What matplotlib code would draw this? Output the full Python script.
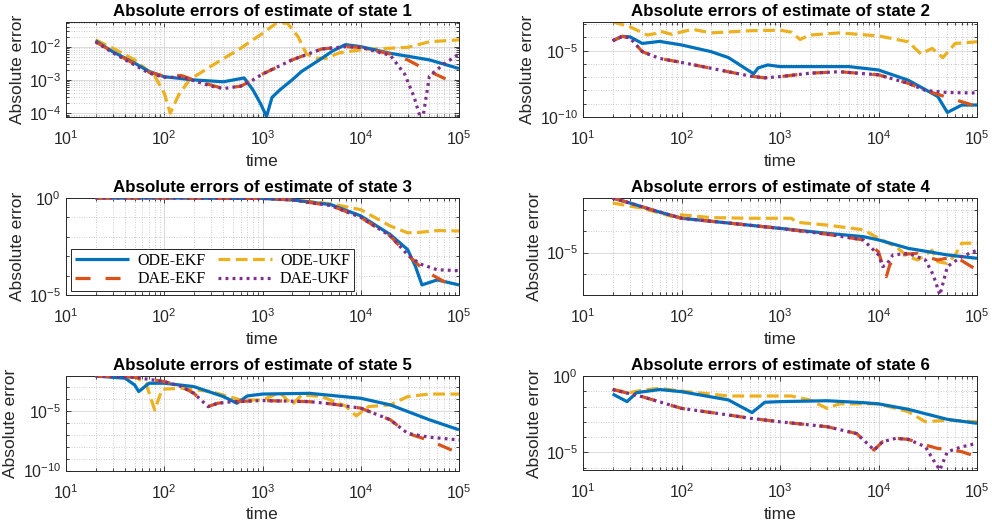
import numpy as np
import matplotlib
matplotlib.use("Agg")
import matplotlib.pyplot as plt
from matplotlib.ticker import LogLocator, NullFormatter, FixedLocator, LogFormatterSciNotation

plt.rcParams['font.family'] = ['Liberation Sans', 'DejaVu Sans']
plt.rcParams['mathtext.default'] = 'regular'

series_names = ["ODE-EKF", "DAE-EKF", "ODE-UKF", "DAE-UKF"]
titles = ["Absolute errors of estimate of state %d" % i for i in range(1, 7)]

# ---------------- state 1 ----------------
s1_ode_ekf_t = [20, 30, 50, 70, 100, 200, 400, 650, 800, 950, 1100, 1250, 1500, 2000, 2500, 3800, 5200, 7000, 10000, 20000, 50000, 100000]
s1_ode_ekf_e = [1.5e-2, 7e-3, 3.2e-3, 1.8e-3, 1.25e-3, 1.0e-3, 8.8e-4, 1.15e-3, 5e-4, 2e-4, 8e-5, 3e-4, 5e-4, 1e-3, 1.8e-3, 4e-3, 7.5e-3, 1.15e-2, 1.0e-2, 6.3e-3, 4e-3, 2.2e-3]
s1_dae_ekf_t = [20, 30, 50, 70, 100, 150, 200, 300, 400, 600, 800, 1000, 2000, 4000, 7000, 10000, 20000, 30000, 50000, 100000]
s1_dae_ekf_e = [1.4e-2, 7e-3, 3e-3, 1.7e-3, 1.3e-3, 1.35e-3, 1.0e-3, 7e-4, 5.5e-4, 6.5e-4, 1e-3, 1.5e-3, 4e-3, 8.5e-3, 1.0e-2, 9.5e-3, 6e-3, 4e-3, 1.8e-3, 7e-4]
s1_ode_ukf_t = [20, 30, 50, 80, 100, 115, 140, 180, 300, 600, 1000, 1400, 1800, 2300, 2800, 3500, 4500, 6000, 10000, 20000, 30000, 50000, 100000]
s1_ode_ukf_e = [1.6e-2, 9e-3, 4e-3, 1.3e-3, 4e-4, 1e-4, 3.5e-4, 1e-3, 2.6e-3, 9e-3, 2.5e-2, 5.2e-2, 5e-2, 2e-2, 6e-3, 4.5e-3, 4.5e-3, 6.5e-3, 8e-3, 9e-3, 9.5e-3, 1.4e-2, 1.6e-2]
s1_dae_ukf_t = [20, 30, 50, 70, 100, 150, 200, 300, 400, 600, 800, 1000, 2000, 4000, 7000, 10000, 20000, 28000, 35000, 42000, 50000, 70000, 100000]
s1_dae_ukf_e = [1.4e-2, 6.5e-3, 2.8e-3, 1.6e-3, 1.2e-3, 1.2e-3, 9.5e-4, 6.5e-4, 5.5e-4, 6.5e-4, 1e-3, 1.5e-3, 4e-3, 8.5e-3, 1.0e-2, 9.5e-3, 5.5e-3, 1.5e-3, 3e-4, 5e-5, 1.3e-3, 3e-3, 6e-3]

# ---------------- state 2 ----------------
s2_ode_ekf_t = [20, 25, 30, 40, 60, 100, 200, 300, 540, 600, 750, 1000, 2000, 5000, 10000, 20000, 40000, 50000, 70000, 100000]
s2_ode_ekf_e = [5.6e-5, 1.2e-4, 1.1e-4, 3.5e-5, 5e-5, 2.7e-5, 8.4e-6, 3e-6, 1.8e-7, 5e-7, 8.4e-7, 6.3e-7, 6.3e-7, 6.3e-7, 3.5e-7, 6e-8, 3.5e-9, 2.2e-10, 8e-10, 8e-10]
s2_dae_ekf_t = [20, 25, 30, 40, 60, 100, 200, 500, 700, 1000, 2000, 4000, 10000, 20000, 30000, 60000, 100000]
s2_dae_ekf_e = [5.6e-5, 1.2e-4, 9e-5, 8.4e-6, 2.6e-6, 1.3e-6, 4.7e-7, 1.2e-7, 9e-8, 1.1e-7, 2e-7, 2.6e-7, 1.5e-7, 3.5e-8, 1e-8, 2e-9, 6.3e-10]
s2_ode_ukf_t = [20, 30, 45, 55, 60, 80, 100, 130, 200, 500, 1000, 1300, 1600, 2000, 4000, 10000, 20000, 27000, 35000, 45000, 60000, 100000]
s2_ode_ukf_e = [1.5e-3, 6.3e-4, 1.5e-4, 2e-4, 3e-4, 1.7e-4, 2.6e-4, 4e-4, 2.2e-4, 3.2e-4, 3.5e-4, 2.5e-4, 7e-5, 1.5e-4, 2.2e-4, 1.3e-4, 4.7e-5, 5.6e-6, 1.5e-5, 3e-6, 3.5e-5, 4.7e-5]
s2_dae_ukf_t = [20, 25, 30, 40, 60, 100, 200, 500, 700, 1000, 2000, 4000, 10000, 20000, 30000, 50000, 100000]
s2_dae_ukf_e = [5.6e-5, 1.2e-4, 9e-5, 8.4e-6, 2.6e-6, 1.3e-6, 4.7e-7, 1.2e-7, 9e-8, 1.1e-7, 2e-7, 2.6e-7, 1.5e-7, 3.5e-8, 1e-8, 7e-9, 6.5e-9]

# ---------------- state 3 ----------------
s3_ode_ekf_t = [20, 100, 1000, 2000, 5000, 10000, 20000, 30000, 36000, 42000, 60000, 100000]
s3_ode_ekf_e = [1, 1, 0.95, 0.8, 0.45, 0.12, 1.3e-2, 2.2e-3, 3e-4, 3.3e-5, 6e-5, 3.3e-5]
s3_dae_ekf_t = [20, 100, 1000, 2000, 5000, 10000, 20000, 30000, 40000, 50000, 70000, 100000]
s3_dae_ekf_e = [1, 1, 0.95, 0.8, 0.4, 0.1, 1.1e-2, 1.2e-3, 3e-4, 1.3e-4, 5e-5, 2.2e-5]
s3_ode_ukf_t = [20, 100, 1000, 2000, 5000, 10000, 20000, 30000, 40000, 60000, 100000]
s3_ode_ukf_e = [1, 1, 0.95, 0.82, 0.5, 0.25, 3.6e-2, 1.6e-2, 1.7e-2, 2.1e-2, 2e-2]
s3_dae_ukf_t = [20, 100, 1000, 2000, 5000, 10000, 20000, 30000, 40000, 60000, 100000]
s3_dae_ukf_e = [1, 1, 0.95, 0.8, 0.4, 0.1, 1.1e-2, 1.2e-3, 4e-4, 2e-4, 1.8e-4]

# ---------------- state 4 ----------------
s4_ode_ekf_t = [20, 30, 50, 100, 300, 1000, 3000, 7000, 10000, 20000, 50000, 100000]
s4_ode_ekf_e = [3.8e-3, 2.2e-3, 1.05e-3, 4.2e-4, 2.5e-4, 1.4e-4, 8.2e-5, 5.7e-5, 4e-5, 1.6e-5, 7.8e-6, 5.4e-6]
s4_dae_ekf_t = [20, 30, 50, 100, 300, 1000, 3000, 7000, 10000, 11000, 12000, 13000, 15000, 20000, 25000, 30000, 40000, 60000, 100000]
s4_dae_ekf_e = [3.8e-3, 2.2e-3, 1.05e-3, 4.2e-4, 2.5e-4, 1.4e-4, 7.4e-5, 4e-5, 1.1e-5, 2.6e-6, 7.3e-7, 2.6e-6, 6.5e-6, 8.7e-6, 9.3e-6, 6.5e-6, 4.5e-6, 6.5e-6, 1.5e-6]
s4_ode_ukf_t = [20, 40, 80, 100, 200, 500, 1300, 1500, 3000, 7000, 10000, 15000, 20000, 25000, 30000, 35000, 40000, 50000, 60000, 70000, 100000]
s4_ode_ukf_e = [2.2e-3, 1.25e-3, 5.1e-4, 6.1e-4, 4.5e-4, 4.2e-4, 4.2e-4, 2.7e-4, 2e-4, 1.2e-4, 4.8e-5, 1.9e-5, 6.5e-6, 4.5e-6, 7.8e-6, 1.3e-5, 3.7e-6, 3.1e-6, 7.8e-6, 2.8e-5, 2.8e-5]
s4_dae_ukf_t = [20, 30, 50, 100, 300, 1000, 3000, 7000, 10000, 11000, 12000, 14000, 20000, 30000, 36000, 42000, 50000, 70000, 100000]
s4_dae_ukf_e = [3.8e-3, 2.2e-3, 1.05e-3, 4.2e-4, 2.5e-4, 1.4e-4, 7.4e-5, 4e-5, 7.8e-6, 2.2e-6, 2.6e-6, 7.8e-6, 9.3e-6, 4.5e-6, 8.7e-7, 1e-7, 2.2e-6, 6.5e-6, 1.3e-5]

# ---------------- state 5 ----------------
s5_ode_ekf_t = [20, 40, 50, 55, 70, 100, 200, 400, 550, 700, 1000, 3000, 10000, 20000, 50000, 100000]
s5_ode_ekf_e = [8.5e-3, 5.5e-3, 1.5e-3, 4.2e-4, 2.1e-3, 2.1e-3, 1.1e-3, 1.6e-4, 4.4e-5, 1.8e-4, 2.6e-4, 3e-4, 1.15e-4, 3.2e-5, 1.8e-6, 2.6e-7]
s5_dae_ekf_t = [20, 50, 100, 150, 200, 280, 350, 500, 1000, 3000, 5000, 10000, 20000, 30000, 50000, 100000]
s5_dae_ekf_e = [8.5e-3, 6.6e-3, 2.9e-3, 1.1e-3, 3e-4, 2.3e-5, 4.4e-5, 6e-5, 7.4e-5, 6e-5, 3.9e-5, 1.7e-5, 1.8e-6, 1.3e-7, 3.3e-8, 2.8e-9]
s5_ode_ukf_t = [20, 50, 65, 80, 95, 150, 300, 600, 1000, 1500, 2000, 2500, 4000, 7000, 9000, 12000, 20000, 30000, 50000, 100000]
s5_ode_ukf_e = [8.5e-3, 7.6e-3, 2.1e-3, 1.2e-5, 6.6e-4, 8e-4, 4.2e-4, 8.3e-5, 8.3e-5, 3.5e-4, 3.2e-5, 2.2e-4, 1.6e-4, 2.6e-5, 3.8e-6, 2.3e-5, 3.2e-5, 1.6e-4, 2.6e-4, 2.6e-4]
s5_dae_ukf_t = [20, 50, 100, 150, 200, 280, 350, 500, 1000, 3000, 5000, 10000, 20000, 30000, 50000, 100000]
s5_dae_ukf_e = [8.5e-3, 6.6e-3, 2.9e-3, 1.1e-3, 3e-4, 2.3e-5, 4.4e-5, 6e-5, 7.4e-5, 6e-5, 3.9e-5, 1.7e-5, 1.8e-6, 1.3e-7, 6.2e-8, 3.7e-8]

# ---------------- state 6 ----------------
s6_ode_ekf_t = [20, 28, 35, 60, 100, 300, 520, 700, 1000, 3000, 7000, 10000, 20000, 50000, 100000]
s6_ode_ekf_e = [6.6e-2, 2.1e-2, 8.1e-2, 0.13, 9.4e-2, 2.7e-2, 4e-3, 1.9e-2, 2.1e-2, 2.4e-2, 1.8e-2, 1.5e-2, 6.6e-3, 1.45e-3, 8e-4]
s6_dae_ekf_t = [20, 40, 100, 300, 500, 1000, 3000, 6000, 8000, 9000, 11000, 15000, 20000, 30000, 40000, 50000, 70000, 100000]
s6_dae_ekf_e = [0.13, 4.4e-2, 7.6e-3, 2.8e-3, 1.7e-3, 1e-3, 4.8e-4, 1.7e-4, 3e-5, 1.4e-5, 5e-5, 8.3e-5, 7.1e-5, 3e-5, 1.8e-5, 1.6e-5, 1.1e-5, 5.2e-6]
s6_ode_ukf_t = [20, 30, 40, 60, 100, 300, 1300, 2000, 3000, 4000, 10000, 20000, 30000, 50000, 100000]
s6_ode_ukf_e = [0.13, 8.1e-2, 0.12, 0.155, 0.104, 4.9e-2, 4.9e-2, 2.7e-2, 7.6e-3, 1.5e-2, 1.5e-2, 4.6e-3, 1e-3, 1.3e-3, 1e-3]
s6_dae_ukf_t = [20, 40, 100, 300, 500, 1000, 3000, 6000, 8000, 9000, 11000, 15000, 20000, 30000, 36000, 42000, 50000, 70000, 100000]
s6_dae_ukf_e = [0.13, 4.4e-2, 7.6e-3, 2.8e-3, 1.7e-3, 1e-3, 4.8e-4, 1.7e-4, 3e-5, 1.4e-5, 5e-5, 8.3e-5, 7.1e-5, 2.3e-5, 3.2e-6, 7e-7, 1.1e-5, 2.3e-5, 3.9e-5]

y_limits = [(7.7e-5, 5.5e-2), (1e-10, 1.45e-3), (1e-5, 1.0), (1e-7, 3.8e-3), (1e-10, 8.5e-3), (7e-7, 1.0)]
y_major = [[1e-4, 1e-3, 1e-2], [1e-10, 1e-5], [1e-5, 1e0], [1e-5], [1e-10, 1e-5], [1e-5, 1e0]]
x_limits = (10, 1e5)

panels = [
    [(s1_ode_ekf_t, s1_ode_ekf_e), (s1_dae_ekf_t, s1_dae_ekf_e), (s1_ode_ukf_t, s1_ode_ukf_e), (s1_dae_ukf_t, s1_dae_ukf_e)],
    [(s2_ode_ekf_t, s2_ode_ekf_e), (s2_dae_ekf_t, s2_dae_ekf_e), (s2_ode_ukf_t, s2_ode_ukf_e), (s2_dae_ukf_t, s2_dae_ukf_e)],
    [(s3_ode_ekf_t, s3_ode_ekf_e), (s3_dae_ekf_t, s3_dae_ekf_e), (s3_ode_ukf_t, s3_ode_ukf_e), (s3_dae_ukf_t, s3_dae_ukf_e)],
    [(s4_ode_ekf_t, s4_ode_ekf_e), (s4_dae_ekf_t, s4_dae_ekf_e), (s4_ode_ukf_t, s4_ode_ukf_e), (s4_dae_ukf_t, s4_dae_ukf_e)],
    [(s5_ode_ekf_t, s5_ode_ekf_e), (s5_dae_ekf_t, s5_dae_ekf_e), (s5_ode_ukf_t, s5_ode_ukf_e), (s5_dae_ukf_t, s5_dae_ukf_e)],
    [(s6_ode_ekf_t, s6_ode_ekf_e), (s6_dae_ekf_t, s6_dae_ekf_e), (s6_ode_ukf_t, s6_ode_ukf_e), (s6_dae_ukf_t, s6_dae_ukf_e)],
]

colors = ['#0072BD', '#D95319', '#EDB120', '#7E2F8E']
styles = [dict(linestyle='-'),
          dict(linestyle=(0, (4.7, 4.7))),
          dict(linestyle=(0, (3.7, 1.7))),
          dict(linestyle=(0, (0.9, 1.3)))]
lw = 2.3
zorders = [3, 4, 2, 5]

W, H = 992, 525
fig = plt.figure(figsize=(W / 100, H / 100), dpi=100)
rects_px = [
    (66, 22, 393, 95), (583, 22, 394, 95),
    (66, 198, 393, 97), (583, 198, 394, 97),
    (66, 376, 393, 94.5), (583, 376, 394, 94),
]
axc = '#262626'
for k, (lx, ty, w, h) in enumerate(rects_px):
    ax = fig.add_axes([lx / W, 1 - (ty + h) / H, w / W, h / H])
    ax.set_xscale('log')
    ax.set_yscale('log')
    handles = []
    for j, (t, e) in enumerate(panels[k]):
        ln, = ax.plot(t, e, color=colors[j], lw=lw, zorder=zorders[j],
                      solid_capstyle='butt', dash_capstyle='butt', label=series_names[j], **styles[j])
        handles.append(ln)
    ax.set_xlim(*x_limits)
    ax.set_ylim(*y_limits[k])
    ax.xaxis.set_major_locator(FixedLocator([1e1, 1e2, 1e3, 1e4, 1e5]))
    ax.xaxis.set_minor_locator(LogLocator(base=10, subs=np.arange(2, 10), numticks=50))
    ax.xaxis.set_major_formatter(LogFormatterSciNotation())
    ax.xaxis.set_minor_formatter(NullFormatter())
    ax.yaxis.set_major_locator(FixedLocator(y_major[k]))
    if k == 0:
        ax.yaxis.set_minor_locator(LogLocator(base=10, subs=np.arange(2, 10), numticks=50))
    else:
        ax.yaxis.set_minor_locator(LogLocator(base=10, subs=(1.0,), numticks=50))
    ax.yaxis.set_major_formatter(LogFormatterSciNotation())
    ax.yaxis.set_minor_formatter(NullFormatter())
    ax.grid(True, which='major', color='#d6d6d6', lw=0.6, ls='-', zorder=0)
    ax.grid(True, which='minor', color='#bdbdbd', lw=0.6, ls=(0, (1, 2)), zorder=0)
    ax.set_axisbelow(True)
    ax.tick_params(which='both', direction='in', top=True, right=True, colors=axc, labelsize=11.5, width=0.6)
    ax.tick_params(which='major', length=3.5)
    ax.tick_params(axis='x', which='major', pad=9)
    ax.tick_params(axis='y', which='major', pad=3.5)
    ax.tick_params(which='minor', length=2)
    for sp in ax.spines.values():
        sp.set_color(axc)
        sp.set_linewidth(0.7)
    ax.set_title(titles[k], fontsize=12.2, fontweight='bold', pad=4, color='black')
    ax.set_xlabel('time', fontsize=12.5, color=axc, labelpad=4)
    ax.set_ylabel('Absolute error', fontsize=12.5, color=axc, labelpad=3)
    if k == 2:
        leg = ax.legend(handles=handles, ncol=2, loc='lower left', bbox_to_anchor=(0.013, 0.04),
                        borderaxespad=0, prop={'family': 'Liberation Serif', 'size': 11.5},
                        handlelength=3.4, handletextpad=0.5, columnspacing=0.75, labelspacing=0.15,
                        borderpad=0.25, frameon=True, fancybox=False, framealpha=1, edgecolor=axc)
        leg.get_frame().set_linewidth(0.7)
        leg.set_zorder(10)

fig.savefig('out.png', dpi=100)
